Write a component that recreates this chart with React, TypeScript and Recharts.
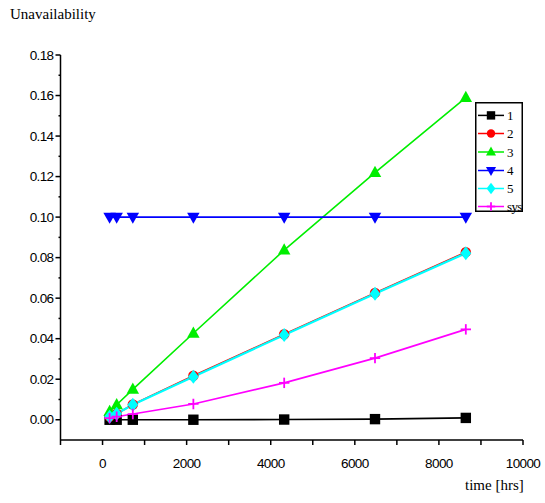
import React from "react";
import { LineChart, Line, XAxis, YAxis } from "recharts";

const times = [168, 336, 720, 2160, 4320, 6480, 8640];
const s1 = [0, 0, 0, 0, 0.0001, 0.0003, 0.0009];
const s2 = [0.0015, 0.003, 0.0075, 0.0217, 0.0422, 0.0626, 0.0827];
const s3 = [0.004, 0.0074, 0.015, 0.0427, 0.0837, 0.122, 0.159];
const s4 = [0.1, 0.1, 0.1, 0.1, 0.1, 0.1, 0.1];
const s5 = [0.0015, 0.003, 0.0074, 0.0212, 0.0418, 0.0622, 0.0822];
const sys = [0.0008, 0.0015, 0.0028, 0.0078, 0.0182, 0.0304, 0.0446];

const xTicks = [-1000, 0, 1000, 2000, 3000, 4000, 5000, 6000, 7000, 8000, 9000, 10000];
const xLabels = ["", "0", "", "2000", "", "4000", "", "6000", "", "8000", "", "10000"];
const yTicks = [0, 0.01, 0.02, 0.03, 0.04, 0.05, 0.06, 0.07, 0.08, 0.09, 0.1, 0.11, 0.12, 0.13, 0.14, 0.15, 0.16, 0.17, 0.18];
const yLabels = ["0.00", "", "0.02", "", "0.04", "", "0.06", "", "0.08", "", "0.10", "", "0.12", "", "0.14", "", "0.16", "", "0.18"];

const seriesNames = ["1", "2", "3", "4", "5", "sys"];
const seriesKeys = ["s1", "s2", "s3", "s4", "s5", "sys"];
const seriesColors = ["#000000", "#ff0000", "#00ee00", "#0000ff", "#00ffff", "#ff00ff"];
const seriesShapes = ["square", "circle", "triangle", "triangleDown", "diamond", "plus"];
const seriesWidths = [1.6, 1.6, 1.6, 1.6, 2.2, 1.6];

const data = times.map((t, i) => ({
  t,
  s1: s1[i],
  s2: s2[i],
  s3: s3[i],
  s4: s4[i],
  s5: s5[i],
  sys: sys[i],
}));

function Marker({ shape, color, cx, cy, r }: { shape: string; color: string; cx: number; cy: number; r: number }) {
  switch (shape) {
    case "square":
      return <rect x={cx - r} y={cy - r} width={2 * r} height={2 * r} fill={color} />;
    case "circle":
      return <circle cx={cx} cy={cy} r={r} fill={color} />;
    case "triangle":
      return (
        <polygon
          points={`${cx},${cy - r * 1.3} ${cx - r * 1.2},${cy + r * 0.85} ${cx + r * 1.2},${cy + r * 0.85}`}
          fill={color}
        />
      );
    case "triangleDown":
      return (
        <polygon
          points={`${cx},${cy + r * 1.3} ${cx - r * 1.2},${cy - r * 0.85} ${cx + r * 1.2},${cy - r * 0.85}`}
          fill={color}
        />
      );
    case "diamond":
      return (
        <polygon
          points={`${cx},${cy - r * 1.35} ${cx + r * 1.05},${cy} ${cx},${cy + r * 1.35} ${cx - r * 1.05},${cy}`}
          fill={color}
        />
      );
    case "plus":
      return (
        <g stroke={color} strokeWidth={1.8}>
          <line x1={cx - r} y1={cy} x2={cx + r} y2={cy} />
          <line x1={cx} y1={cy - r} x2={cx} y2={cy + r} />
        </g>
      );
    default:
      return null;
  }
}

const makeDot = (shape: string, color: string) => (props: any) => {
  const { cx, cy, index } = props;
  if (cx == null || cy == null) return <g key={`d-${index}`} />;
  return (
    <g key={`d-${shape}-${index}`}>
      <Marker shape={shape} color={color} cx={cx} cy={cy} r={5.2} />
    </g>
  );
};

const XTick = (props: any) => {
  const { x, y, payload } = props;
  const label = xLabels[xTicks.indexOf(payload.value)] ?? "";
  return (
    <g>
      <line x1={x} y1={y} x2={x} y2={y + 5} stroke="#000" strokeWidth={1.5} />
      {label !== "" && (
        <text
          x={x}
          y={y + 28}
          textAnchor="middle"
          fontFamily="'Liberation Sans', Arial, sans-serif"
          fontSize={13.5}
          letterSpacing={-0.6}
          fill="#000"
        >
          {label}
        </text>
      )}
    </g>
  );
};

const YTick = (props: any) => {
  const { x, y, payload } = props;
  const idx = yTicks.findIndex((v) => Math.abs(v - payload.value) < 1e-9);
  const label = idx >= 0 ? yLabels[idx] : "";
  const major = label !== "";
  return (
    <g>
      <line x1={x - (major ? 5 : 2)} y1={y} x2={x} y2={y} stroke="#000" strokeWidth={1.5} />
      {major && (
        <text
          x={x - 7}
          y={y + 4.5}
          textAnchor="end"
          fontFamily="'Liberation Sans', Arial, sans-serif"
          fontSize={13.5}
          letterSpacing={-0.6}
          fill="#000"
        >
          {label}
        </text>
      )}
    </g>
  );
};

const LegendBox = () => {
  const rows = [13.4, 31.5, 50, 68.5, 86.5, 104.5];
  return (
    <svg width={48} height={110} style={{ display: "block", overflow: "visible" }}>
      <rect x={0.75} y={0.75} width={46.5} height={108.5} fill="#fff" stroke="#000" strokeWidth={1.5} />
      {seriesNames.map((name, i) => (
        <g key={name}>
          <line x1={3} y1={rows[i]} x2={29} y2={rows[i]} stroke={seriesColors[i]} strokeWidth={1.5} />
          <Marker shape={seriesShapes[i]} color={seriesColors[i]} cx={16} cy={rows[i]} r={4.2} />
          <text
            x={32}
            y={rows[i] + 4.5}
            fontFamily="'Liberation Serif', 'Times New Roman', serif"
            fontSize={13}
            letterSpacing={-0.6}
            fill="#000"
          >
            {name}
          </text>
        </g>
      ))}
    </svg>
  );
};

export default function App() {
  return (
    <div style={{ position: "absolute", left: 0, top: 0, width: 545, height: 503, background: "#fff" }}>
      <LineChart
        width={545}
        height={503}
        data={data}
        margin={{ top: 55, right: 22, bottom: 33, left: 0 }}
      >
        <XAxis
          dataKey="t"
          type="number"
          domain={[-1000, 10000]}
          ticks={xTicks}
          interval={0}
          tickSize={0}
          tickMargin={0}
          tickLine={false}
          height={30}
          stroke="#000"
          strokeWidth={1.5}
          tick={<XTick />}
          allowDataOverflow
        />
        <YAxis
          type="number"
          domain={[-0.01, 0.18]}
          ticks={yTicks}
          interval={0}
          tickSize={0}
          tickMargin={0}
          tickLine={false}
          width={60.5}
          stroke="#000"
          strokeWidth={1.5}
          tick={<YTick />}
          allowDataOverflow
        />
        {seriesKeys.map((k, i) => (
          <Line
            key={k}
            dataKey={k}
            name={seriesNames[i]}
            stroke={seriesColors[i]}
            strokeWidth={seriesWidths[i]}
            type="linear"
            dot={makeDot(seriesShapes[i], seriesColors[i])}
            activeDot={false}
            isAnimationActive={false}
          />
        ))}
      </LineChart>
      <div style={{ position: "absolute", left: 475, top: 102 }}>
        <LegendBox />
      </div>
      <div
        style={{
          position: "absolute",
          left: 10,
          top: 6,
          fontFamily: "'Liberation Serif', 'Times New Roman', serif",
          fontSize: 15,
          color: "#000",
          whiteSpace: "nowrap",
        }}
      >
        Unavailability
      </div>
      <div
        style={{
          position: "absolute",
          left: 465,
          top: 477,
          fontFamily: "'Liberation Serif', 'Times New Roman', serif",
          fontSize: 15,
          color: "#000",
          whiteSpace: "nowrap",
        }}
      >
        time [hrs]
      </div>
    </div>
  );
}
